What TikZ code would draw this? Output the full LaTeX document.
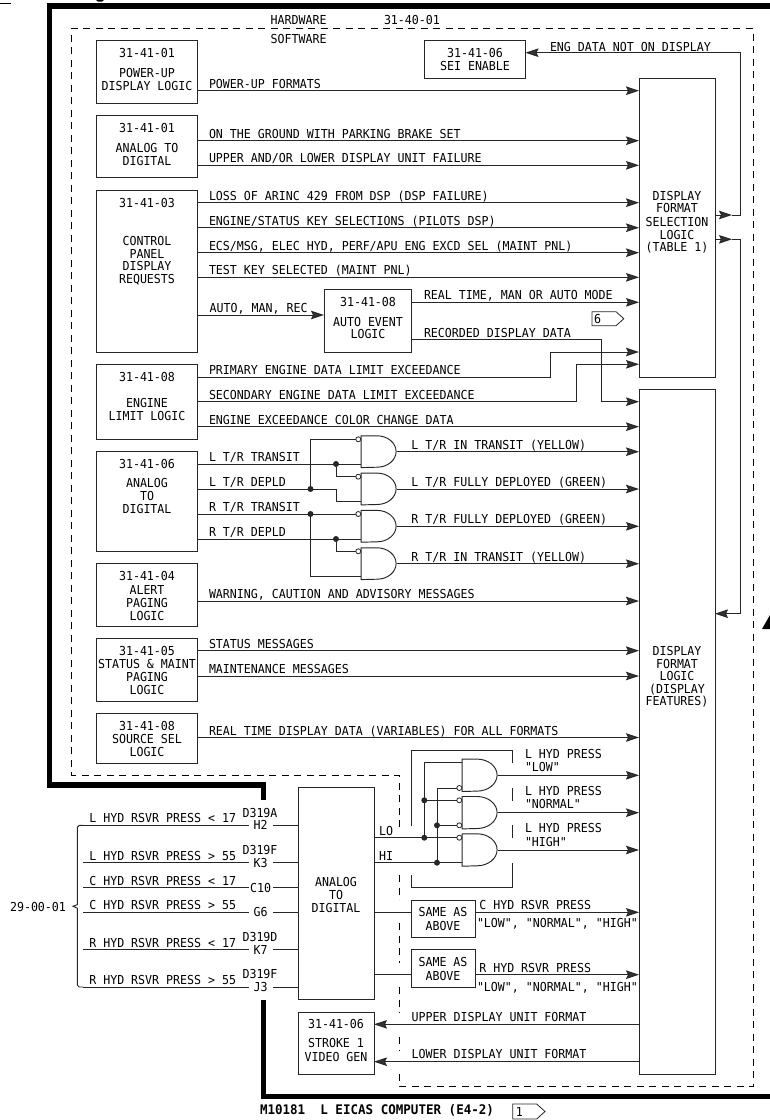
\documentclass[tikz,border=0pt]{standalone}
\usepackage{fontspec}
\usetikzlibrary{arrows.meta,calc}
\setmainfont[FakeStretch=0.94,Ligatures=TeXOff]{DejaVu Sans Mono}
\newfontfamily\boldlab[FakeStretch=0.95,Ligatures=TeXOff]{DejaVu Sans Mono Bold}
\newcounter{tn}
\newcommand\tl[3]{\stepcounter{tn}\node[lab,anchor=west] (t\arabic{tn}) at (#1,#2) {#3};}
\newcommand\tc[3]{\stepcounter{tn}\node[lab] (t\arabic{tn}) at (#1,#2) {#3};}
% from node, to node, y, label x, label
\newcommand\arw[5]{\draw[wire,->] (#1.east |- 0,#3) -- (#2.west |- 0,#3);\tl{#4}{#3-7}{#5}}
\newcommand\bx[5]{\node[boxn,minimum width=#4-#2,minimum height=#5-#3] (#1) at ({(#2+#4)/2},{(#3+#5)/2}) {};}
% name, x left, y centre, flat length, curve length, half height
\newcommand\gate[6]{\node[inner sep=0,minimum width=#4+#5,minimum height=2*#6] (#1) at ({#2+(#4+#5)/2},#3) {};
 \draw[wire] (#1.north west) -- ++(#4,0) .. controls +(0.55*#5,0) and +(0,-0.55*#6) .. ++(#5,#6) .. controls +(0,0.55*#6) and +(0.55*#5,0) .. ++(-#5,#6) -- (#1.south west) -- cycle;}
\newcommand\bub[3]{\node[bubble] (#1) at (#2,#3) {};}
\newcommand\dotn[3]{\node[dotm] (#1) at (#2,#3) {};}
\tikzset{
 lab/.style={inner sep=0,outer sep=0,text height=9pt,text depth=0pt,font=\fontsize{12.35}{15}\selectfont,text=black},
 wire/.style={line width=0.95pt,draw=black!85,>={Stealth[length=13pt,width=8.5pt,inset=2pt,fill=black!80]}},
 boxn/.style={draw=black!85,line width=0.95pt,fill=white,inner sep=0,outer sep=0},
 thick frame/.style={line width=5.5pt,draw=black,line join=miter},
 dsh/.style={line width=0.95pt,draw=black,dash pattern=on 7pt off 5.5pt},
 bubble/.style={circle,draw=black!85,fill=white,line width=0.8pt,minimum size=5pt,inner sep=0,outer sep=0},
 dotm/.style={circle,fill=black!85,minimum size=6pt,inner sep=0,outer sep=0},
}
\begin{document}
\begin{tikzpicture}[x=1pt,y=-1pt]
\useasboundingbox (0,0) rectangle (770,1120);
% heavy frame
\draw[thick frame] (770,6) -- (49.5,6) -- (49.5,785) -- (263.5,785) -- (263.5,800);
\draw[thick frame] (263.5,1000) -- (263.5,1096.5) -- (770,1096.5);
% fragments of the cut-off header and of the big triangle
\draw[line width=1pt,draw=black] (0,3.5) -- (11,3.5);
\fill[black] (96,0) -- (104,0) -- (102,1.6) -- (98,1.6) -- cycle;
\fill[black] (770,615) -- (762,629) -- (770,629) -- cycle;
% dashed software boundary
\draw[dsh] (399,827) -- (399,775) -- (71.7,775) -- (71.7,28.3) -- (753,28.3) -- (753,1086.7) -- (399.3,1086.7) -- (399.3,1073);
\draw[dsh] (399,875) -- (399,900);
\draw[dsh] (399,923) -- (399,963);
\draw[dsh] (399,987) -- (399,1013);
\draw[dsh] (399,1037) -- (399,1050);
% boxes
\bx{b1}{96.3}{40.7}{197.4}{103}
\bx{b2}{96.3}{115.7}{197.4}{177.7}
\bx{b3}{96.3}{190.3}{197.4}{352}
\bx{b4}{96.3}{364.3}{197.4}{439}
\bx{b5}{96.3}{451.7}{197.4}{551.3}
\bx{b6}{96.3}{563.7}{197.4}{626.3}
\bx{b7}{96.3}{638.3}{197.4}{701}
\bx{b8}{96.3}{713}{197.4}{763.3}
\bx{sei}{424.4}{40.7}{525.5}{78.3}
\bx{auto}{324}{289.7}{411.6}{352}
\bx{sel}{639}{78.3}{715}{377}
\bx{dfl}{639}{389.3}{715}{1074.3}
\bx{atd}{298.3}{787.7}{374}{999.3}
\bx{stroke}{298.3}{1012}{374}{1074}
\bx{same1}{411.7}{900}{475}{937.3}
\bx{same2}{411.7}{949.7}{475}{987}
% box texts
\tc{147}{53}{31-41-01}\tc{147}{72.7}{POWER-UP}\tc{147}{85.7}{DISPLAY LOGIC}
\tc{147}{128.3}{31-41-01}\tc{147}{147.7}{ANALOG TO}\tc{147}{160.7}{DIGITAL}
\tc{147}{203}{31-41-03}\tc{147}{240.7}{CONTROL}\tc{147}{253.7}{PANEL}\tc{147}{266.3}{DISPLAY}\tc{147}{279.3}{REQUESTS}
\tc{147}{376.7}{31-41-08}\tc{147}{403}{ENGINE}\tc{147}{416}{LIMIT LOGIC}
\tc{147}{464}{31-41-06}\tc{147}{483}{ANALOG}\tc{147}{496}{TO}\tc{147}{509}{DIGITAL}
\tc{147}{576}{31-41-04}\tc{147}{590}{ALERT}\tc{147}{603}{PAGING}\tc{147}{616}{LOGIC}
\tc{147}{651}{31-41-05}\tc{147}{664}{STATUS \& MAINT}\tc{147}{677}{PAGING}\tc{147}{690}{LOGIC}
\tc{147}{726}{31-41-08}\tc{147}{739.3}{SOURCE SEL}\tc{147}{752.3}{LOGIC}
\tc{475}{53.3}{31-41-06}\tc{475}{66.3}{SEI ENABLE}
\tc{368}{302.3}{31-41-08}\tc{368}{321.7}{AUTO EVENT}\tc{368}{334.3}{LOGIC}
\tc{677}{195.7}{DISPLAY}\tc{677}{208.3}{FORMAT}\tc{677}{221.7}{SELECTION}\tc{677}{234.7}{LOGIC}\tc{677}{247.3}{(TABLE 1)}
\tc{677}{651}{DISPLAY}\tc{677}{664}{FORMAT}\tc{677}{676}{LOGIC}\tc{677}{689}{(DISPLAY}\tc{677}{701}{FEATURES)}
\tc{336}{881.7}{ANALOG}\tc{336}{894.7}{TO}\tc{336}{907.7}{DIGITAL}
\tc{336}{1024.3}{31-41-06}\tc{336}{1043.3}{STROKE 1}\tc{336}{1056.7}{VIDEO GEN}
\tc{443}{912.3}{SAME AS}\tc{443}{925.7}{ABOVE}
\tc{443}{962.3}{SAME AS}\tc{443}{975.7}{ABOVE}
% header texts
\tl{270.6}{20}{HARDWARE}\tl{384}{19.5}{31-40-01}\tl{270.6}{38.7}{SOFTWARE}
% straight signals into the selection logic
\arw{b1}{sel}{90.7}{209}{POWER-UP FORMATS}
\arw{b2}{sel}{140.7}{209}{ON THE GROUND WITH PARKING BRAKE SET}
\arw{b2}{sel}{165.3}{209}{UPPER AND/OR LOWER DISPLAY UNIT FAILURE}
\arw{b3}{sel}{202.7}{209}{LOSS OF ARINC 429 FROM DSP (DSP FAILURE)}
\arw{b3}{sel}{227.7}{209}{ENGINE/STATUS KEY SELECTIONS (PILOTS DSP)}
\arw{b3}{sel}{252.7}{209}{ECS/MSG, ELEC HYD, PERF/APU ENG EXCD SEL (MAINT PNL)}
\arw{b3}{sel}{277.3}{209}{TEST KEY SELECTED (MAINT PNL)}
\draw[wire,->] (b3.east |- 0,315) -- (auto.west |- 0,315);
\tl{209.7}{308}{AUTO, MAN, REC}
\arw{auto}{sel}{302.3}{424}{REAL TIME, MAN OR AUTO MODE}
% tag 6
\draw[wire,line width=0.8pt] (592,311.7) -- (616,311.7) -- (623.8,318.7) -- (616,325.7) -- (592,325.7) -- cycle;
\tc{597.5}{318.7}{6}
% routed signals
\draw[wire,->] (auto.east |- 0,339.7) -- (601.6,339.7) -- (601.6,401.7) -- (dfl.west |- 0,401.7);
\tl{424}{332.7}{RECORDED DISPLAY DATA}
\draw[wire,->] (b4.east |- 0,377) -- (550.6,377) -- (550.6,352) -- (sel.west |- 0,352);
\tl{209}{370}{PRIMARY ENGINE DATA LIMIT EXCEEDANCE}
\draw[wire,->] (b4.east |- 0,401.7) -- (576,401.7) -- (576,364.3) -- (sel.west |- 0,364.3);
\tl{209}{394.7}{SECONDARY ENGINE DATA LIMIT EXCEEDANCE}
\arw{b4}{dfl}{426.7}{209}{ENGINE EXCEEDANCE COLOR CHANGE DATA}
% feedback rail
\coordinate (tipA) at (732,215);
\coordinate (tipB) at (732,239.3);
\draw[wire,->] (sel.east |- tipA) -- (tipA);
\draw[wire,->] (tipA) -- (740,215) -- (740,52.7) -- (sei.east |- 0,52.7);
\tl{550}{46.7}{ENG DATA NOT ON DISPLAY}
\draw[wire,->] (sel.east |- tipB) -- (tipB);
\draw[wire,->] (tipB) -- (740,239.3) -- (740,613.7) -- (dfl.east |- 0,613.7);
% thrust reverser gates
\gate{g1}{361.3}{451.7}{16}{19}{15.7}
\gate{g2}{361.3}{489}{16}{19}{15.7}
\gate{g3}{361.3}{526.3}{16}{19}{15.7}
\gate{g4}{361.3}{563.7}{16}{19}{15.7}
\bub{bg1}{358.3}{439.3}\bub{bg2}{358.3}{476.7}\bub{bg3}{358.3}{514}\bub{bg4}{358.3}{551.3}
\dotn{d1}{310.5}{489}\dotn{d2}{336}{464}\dotn{d3}{310.5}{514}\dotn{d4}{336}{539}
\draw[wire] (b5.east |- d2) -- (g1.west |- d2);
\draw[wire] (d2) |- (bg2);
\draw[wire] (b5.east |- d1) -- (336,489) -- (336,501.3) -- (g2.west |- 0,501.3);
\draw[wire] (d1) -- (310.5,439.3) -- (bg1);
\draw[wire] (b5.east |- d3) -- (bg3);
\draw[wire] (d3) -- (310.5,576) -- (g4.west |- 0,576);
\draw[wire] (b5.east |- d4) -- (g3.west |- d4);
\draw[wire] (d4) |- (bg4);
\tl{209}{457}{L T/R TRANSIT}\tl{209}{482}{L T/R DEPLD}\tl{209}{507}{R T/R TRANSIT}\tl{209}{532}{R T/R DEPLD}
\arw{g1}{dfl}{451.7}{411.4}{L T/R IN TRANSIT (YELLOW)}
\arw{g2}{dfl}{489}{411.4}{L T/R FULLY DEPLOYED (GREEN)}
\arw{g3}{dfl}{526.3}{411.4}{R T/R FULLY DEPLOYED (GREEN)}
\arw{g4}{dfl}{563.7}{411.4}{R T/R IN TRANSIT (YELLOW)}
\arw{b6}{dfl}{601}{209}{WARNING, CAUTION AND ADVISORY MESSAGES}
\arw{b7}{dfl}{650.7}{209}{STATUS MESSAGES}
\arw{b7}{dfl}{676}{209}{MAINTENANCE MESSAGES}
\arw{b8}{dfl}{737.5}{209}{REAL TIME DISPLAY DATA (VARIABLES) FOR ALL FORMATS}
% hydraulic gates enclosure
\draw[wire] (411.7,826) -- (411.7,750.7) -- (512.7,750.7) -- (512.7,763);
\draw[wire] (512.7,788) -- (512.7,801);
\draw[wire] (512.7,825) -- (512.7,838);
\draw[wire] (411.7,875) -- (411.7,887) -- (512.7,887) -- (512.7,862.7);
% hydraulic gates
\gate{h1}{462.3}{775.3}{15}{20}{16}
\gate{h2}{462.3}{812.7}{15}{20}{16}
\gate{h3}{462.3}{850}{15}{20}{16}
\bub{bh1}{459.3}{788}\bub{bh2}{459.3}{800.3}\bub{bh3}{459.3}{825.3}\bub{bh4}{459.3}{837.7}
\dotn{e1}{424.3}{837.7}\dotn{e2}{424.3}{800.3}\dotn{e3}{437}{862.7}\dotn{e4}{437}{825.3}
\draw[wire] (atd.east |- e1) -- (bh4);
\draw[wire] (e1) -- (424.3,762.7) -- (h1.west |- 0,762.7);
\draw[wire] (e2) -- (bh2);
\draw[wire] (atd.east |- e3) -- (h3.west |- e3);
\draw[wire] (e3) -- (437,788) -- (bh1);
\draw[wire] (e4) -- (bh3);
\tc{386}{830.7}{LO}\tc{386}{855.7}{HI}
\draw[wire,->] (h1.east) -- (dfl.west |- h1.east);
\draw[wire,->] (h2.east) -- (dfl.west |- h2.east);
\draw[wire,->] (h3.east) -- (dfl.west |- h3.east);
\tl{525}{754.3}{L HYD PRESS}\tl{525}{767.3}{"LOW"}
\tl{525}{791.3}{L HYD PRESS}\tl{525}{804.3}{"NORMAL"}
\tl{525}{828.3}{L HYD PRESS}\tl{525}{841.7}{"HIGH"}
% same-as-above channels
\draw[wire] (atd.east |- 0,912.3) -- (same1.west |- 0,912.3);
\draw[wire,->] (same1.east |- 0,912.3) -- (dfl.west |- 0,912.3);
\tl{479.3}{905.3}{C HYD RSVR PRESS}\tl{477}{923.3}{"LOW", "NORMAL", "HIGH"}
\draw[wire] (atd.east |- 0,974.7) -- (same2.west |- 0,974.7);
\draw[wire,->] (same2.east |- 0,974.7) -- (dfl.west |- 0,974.7);
\tl{479.3}{967.7}{R HYD RSVR PRESS}\tl{477}{986.7}{"LOW", "NORMAL", "HIGH"}
% outputs to video generator
\draw[wire,->] (dfl.west |- 0,1024.3) -- (stroke.east |- 0,1024.3);
\tl{411.7}{1017.3}{UPPER DISPLAY UNIT FORMAT}
\draw[wire,->] (dfl.west |- 0,1061.7) -- (stroke.east |- 0,1061.7);
\tl{411.7}{1054.3}{LOWER DISPLAY UNIT FORMAT}
% input pins
\tikzset{pin box/.style={lab,minimum width=24.4pt}}
\node[pin box] (H2) at (260.7,825.3) {H2};
\node[pin box] (K3) at (260.7,862.7) {K3};
\node[pin box] (C10) at (260.7,887.7) {C10};
\node[pin box] (G6) at (260.7,912.3) {G6};
\node[pin box] (K7) at (260.7,949.7) {K7};
\node[pin box] (J3) at (260.7,987) {J3};
\tc{260}{812.7}{D319A}\tc{260}{849.7}{D319F}\tc{260}{937}{D319D}\tc{260}{974.3}{D319F}
\coordinate (bt) at (83.3,825.3);
\coordinate (bb) at (83.3,987);
\foreach \p in {H2,K3,C10,G6,K7,J3}{
 \draw[wire] (83.3,0 |- \p.west) -- (\p.west);
 \draw[wire] (\p.east) -- (atd.west |- \p.east);
}
\tl{89.3}{818.3}{L HYD RSVR PRESS < 17}
\tl{89.3}{855.7}{L HYD RSVR PRESS > 55}
\tl{89.3}{880.7}{C HYD RSVR PRESS < 17}
\tl{89.3}{905.3}{C HYD RSVR PRESS > 55}
\tl{89.3}{942.7}{R HYD RSVR PRESS < 17}
\tl{89.3}{980}{R HYD RSVR PRESS > 55}
% brace
\tc{38}{906.7}{29-00-01}
\draw[wire] (bt) -- (79.3,825.3) -- (77.3,827.3) -- (77.3,904.7) -- (73,906.2) -- (77.3,908.2) -- (77.3,985) -- (79.3,987) -- (bb);
% caption
\stepcounter{tn}\node[lab,anchor=west,font=\boldlab\fontsize{13.2}{16}\selectfont] (t\arabic{tn}) at (260,1110) {M10181\ \ L EICAS COMPUTER (E4-2)};
\draw[wire,line width=0.8pt] (512.7,1104) -- (536.7,1104) -- (545,1111.5) -- (536.7,1119) -- (512.7,1119) -- cycle;
\tc{519.3}{1111.5}{1}
\end{tikzpicture}
\end{document}
